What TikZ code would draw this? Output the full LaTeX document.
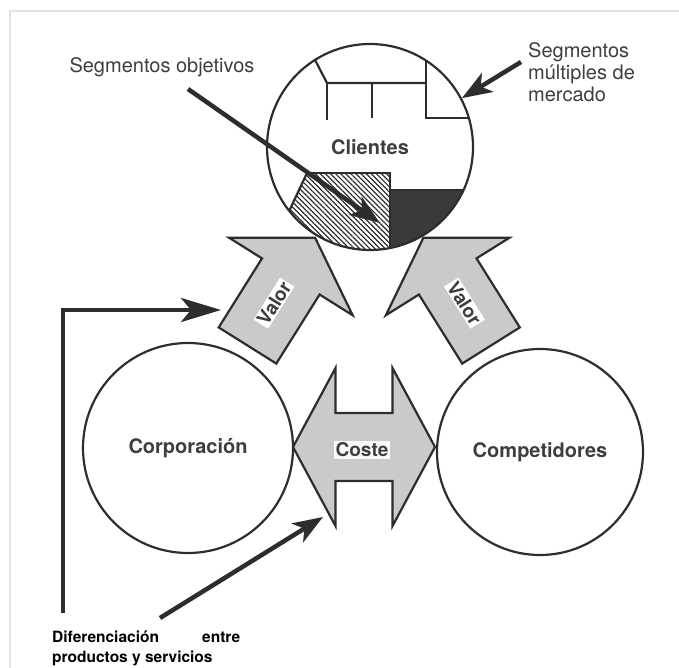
\documentclass[tikz,border=0pt]{standalone}
\usepackage{fontspec}
\setmainfont{TeX Gyre Heros}
\usetikzlibrary{arrows.meta,patterns.meta}

\definecolor{ink}{RGB}{45,45,45}
\definecolor{txt}{RGB}{62,62,62}
\definecolor{shade}{RGB}{202,202,202}
\definecolor{dark}{RGB}{58,58,58}
\definecolor{framec}{RGB}{226,226,226}

\begin{document}
\begin{tikzpicture}[x=1pt,y=-1pt,
  outline/.style={draw=ink,line width=2.2pt},
  ring/.style={circle,draw=ink,line width=2.2pt,inner sep=0pt,minimum size=#1,
    font=\fontsize{20}{24}\selectfont\bfseries,text=txt},
  pointer/.style={draw=ink,line width=4.5pt,
    -{Stealth[length=30pt,width=22pt,inset=8pt]}},
  longpointer/.style={draw=ink,line width=4.5pt,line join=miter,
    -{Stealth[length=40pt,width=24pt,inset=10pt]}},
  bigshape/.style={fill=shade,draw=ink,line width=2.2pt,line join=miter},
  tag/.style={fill=white,inner sep=1.5pt,text=txt,
    font=\fontsize{19}{22}\selectfont\bfseries},
  note/.style={inner sep=0pt,text=txt,font=\fontsize{20}{22}\selectfont},
  caption/.style={inner sep=0pt,text=black,font=\fontsize{15.5}{20}\selectfont\bfseries}
]
\useasboundingbox (0,0) rectangle (679,668);
\draw[framec,line width=2pt] (10,668) -- (10,11) -- (679,11);

% --- Clientes: segment regions inside the circle ---
\fill[pattern={Lines[angle=-45,distance=3.6pt,line width=1.2pt]},pattern color=ink]
  (307,173) -- (390,173) -- (390,248.0)
  arc[start angle=78.8,end angle=141.7,radius=103] -- cycle;
\fill[dark] (390,190) -- (463.6,190)
  arc[start angle=24.7,end angle=78.8,radius=103] -- cycle;
\draw[outline] (307,173) -- (390,173) -- (390,249);
\draw[outline] (289.2,210.9) -- (307,173);
\draw[outline] (390,190) -- (463.6,190);
\draw[outline] (315,59.9) -- (327,83) -- (426,83);
\draw[outline] (327,83) -- (327,120);
\draw[outline] (372,83) -- (372,118);
\draw[outline] (426,60.6) -- (426,118) -- (468.8,118);

\node[ring=206pt] (cli) at (370,147) {Clientes};

% --- the three big block arrows ---
\begin{scope}[shift={(247.5,345.5)},rotate=57.9]
  \draw[bigshape] (0,-34) -- (81.5,-34) -- (81.5,-73) -- (127.2,0)
    -- (81.5,73) -- (81.5,34) -- (0,34) -- cycle;
  \node[tag,rotate=57.9] (valorL) at (50,0) {Valor};
\end{scope}
\begin{scope}[shift={(491,345.5)},rotate=122.1]
  \draw[bigshape] (0,-34) -- (81.5,-34) -- (81.5,-73) -- (127.2,0)
    -- (81.5,73) -- (81.5,34) -- (0,34) -- cycle;
  \node[tag,rotate=-57.9] (valorR) at (50,0) {Valor};
\end{scope}
\begin{scope}[shift={(364,447)}]
  \draw[bigshape] (-71,0) -- (-28.5,-79) -- (-28.5,-34) -- (28.5,-34)
    -- (28.5,-79) -- (71,0) -- (28.5,79) -- (28.5,34) -- (-28.5,34)
    -- (-28.5,79) -- cycle;
  \node[tag,fill=white!88!shade] (coste) at (-2,3) {Coste};
\end{scope}

% --- the two lower circles ---
\node[ring=210pt] (corp) at (188,448) {Corporación};
\node[ring=206pt] (comp) at (540,452) {Competidores};

% --- labels ---
\node[note,anchor=base] (segobj) at (162,73) {Segmentos objetivos};
\node[note,anchor=base west] (multA) at (528,58) {Segmentos};
\node[note,anchor=base west] (multB) at (528,80) {múltiples de};
\node[note,anchor=base west] (multC) at (528,102) {mercado};
\node[caption,anchor=base west] (difA) at (52,642)
  {\makebox[188pt][l]{Diferenciación\hfill entre}};
\node[caption,anchor=base west] (difB) at (52,662) {productos y servicios};

% --- pointers ---
\coordinate (soTail) at (188,89);
\coordinate (soHead) at (380,223);
\draw[pointer] (soTail) -- (soHead);

\coordinate (mTail) at (521,62);
\draw[pointer] (mTail) -- (cli.28.3);

\coordinate (lTail) at (63,613);
\coordinate (lHead) at (221,310);
\draw[longpointer] (lTail) |- (lHead);

\coordinate (dTail) at (160,618);
\coordinate (dHead) at (323,517);
\draw[pointer] (dTail) -- (dHead);
\end{tikzpicture}
\end{document}
